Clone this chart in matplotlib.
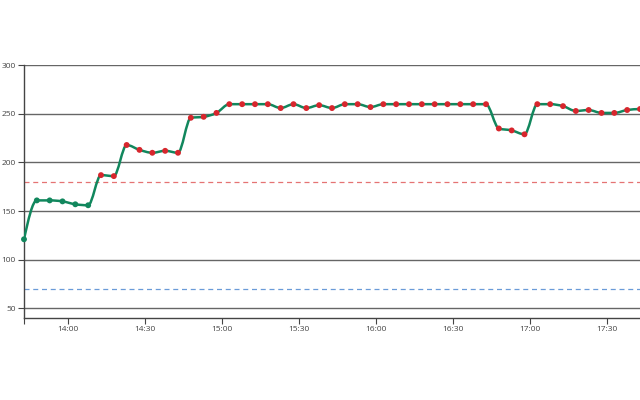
import numpy as np
import pandas as pd
import matplotlib
matplotlib.use("Agg")
import matplotlib.pyplot as plt
import matplotlib.dates as mdates
from matplotlib.path import Path
from matplotlib.patches import PathPatch

# readings every 5 minutes
start_time = "2024-01-01 13:43"
values = [121, 161, 161, 160, 157, 156, 187, 186, 218, 213, 210, 212, 210,
          246, 247, 251, 260, 260, 260, 260, 256, 260, 256, 259, 256, 260,
          260, 257, 260, 260, 260, 260, 260, 260, 260, 260, 260, 235, 233,
          229, 260, 260, 258, 253, 254, 251, 251, 254, 255]
upper_limit = 180
lower_limit = 70

times = pd.date_range(start_time, periods=len(values), freq="5min")
x = mdates.date2num(times.to_pydatetime())
y = np.array(values, dtype=float)

LINE = "#11875d"
RED = "#d7262d"

plt.rcParams['font.family'] = ['Open Sans', 'DejaVu Sans']

fig = plt.figure(figsize=(6.4, 4.0), dpi=100)
ax = fig.add_axes([24 / 640, 1 - 318 / 400, 616 / 640, (318 - 65.3) / 400])


def monotone_path(x, y):
    # monotone-x cubic curve through the points
    n = len(x)
    h = np.diff(x)
    s = np.diff(y) / h
    t = np.zeros(n)
    for i in range(1, n - 1):
        if s[i - 1] * s[i] <= 0:
            t[i] = 0
        else:
            p = (s[i - 1] * h[i] + s[i] * h[i - 1]) / (h[i - 1] + h[i])
            t[i] = (np.sign(s[i - 1]) + np.sign(s[i])) * min(abs(s[i - 1]), abs(s[i]), 0.5 * abs(p))
    t[0] = (3 * s[0] - t[1]) / 2 if n > 2 else s[0]
    t[-1] = (3 * s[-1] - t[-2]) / 2 if n > 2 else s[-1]
    verts = [(x[0], y[0])]
    codes = [Path.MOVETO]
    for i in range(n - 1):
        dx = h[i] / 3
        verts += [(x[i] + dx, y[i] + dx * t[i]),
                  (x[i + 1] - dx, y[i + 1] - dx * t[i + 1]),
                  (x[i + 1], y[i + 1])]
        codes += [Path.CURVE4] * 3
    return Path(verts, codes)


ax.set_xlim(x[0], x[-1])
ax.set_ylim(40, 300)

for v in range(50, 301, 50):
    ax.axhline(v, color="#666666", lw=1.0, zorder=1)
ax.axhline(upper_limit, color="#e57373", lw=0.9, ls=(0, (4, 3)), zorder=1)
ax.axhline(lower_limit, color="#6a9bd8", lw=0.9, ls=(0, (4, 3)), zorder=1)

ax.add_patch(PathPatch(monotone_path(x, y), fill=False, edgecolor=LINE, lw=1.8,
                       zorder=3, clip_on=True))
colors = [RED if v > upper_limit else LINE for v in values]
ax.scatter(x, y, s=18, c=colors, zorder=4, linewidths=0, clip_on=False)

ax.xaxis.set_major_locator(mdates.MinuteLocator(byminute=[0, 30]))
ax.xaxis.set_major_formatter(mdates.DateFormatter("%H:%M"))
ax.set_xticks([x[0]], minor=True)
ax.set_yticks(range(50, 301, 50))

for side in ["top", "right"]:
    ax.spines[side].set_visible(False)
for side in ["left", "bottom"]:
    ax.spines[side].set_color("#444444")
    ax.spines[side].set_linewidth(1.0)
ax.tick_params(axis="both", which="both", colors="#444444", labelsize=6, length=4, width=0.8, pad=2)

fig.savefig("out.png", dpi=100)
